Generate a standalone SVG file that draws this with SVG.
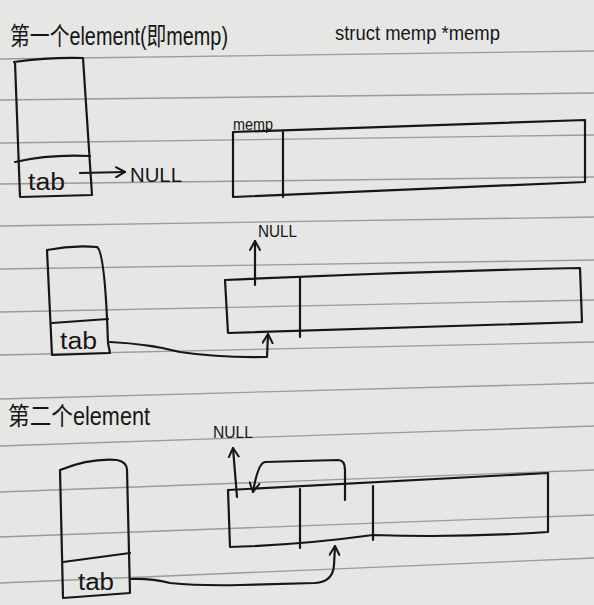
<svg xmlns="http://www.w3.org/2000/svg" width="594" height="605" viewBox="0 0 594 605">
<style>
.paper{fill:#e6e6e4}
.rule{stroke:#9a9a98;stroke-width:1.3;fill:none}
.ink{stroke:#161616;stroke-width:2.2;fill:none;stroke-linecap:round;stroke-linejoin:round}
.t{fill:#161616;font-family:"Liberation Sans","Noto Sans CJK SC",sans-serif}
</style>
<defs>
<marker id="ah" viewBox="0 0 12 12" refX="10" refY="6" markerWidth="12" markerHeight="12" markerUnits="userSpaceOnUse" orient="auto">
<path d="M1,1 L10,6 L1,11" fill="none" stroke="#161616" stroke-width="2" stroke-linecap="round" stroke-linejoin="round"/>
</marker>
</defs>
<rect class="paper" x="0" y="0" width="594" height="605"/>
<g id="ruled-lines">
<line class="rule" x1="0" y1="59" x2="594" y2="51"/>
<line class="rule" x1="0" y1="100" x2="594" y2="93"/>
<line class="rule" x1="0" y1="143" x2="594" y2="135"/>
<line class="rule" x1="0" y1="184" x2="594" y2="177"/>
<line class="rule" x1="0" y1="226" x2="594" y2="217"/>
<line class="rule" x1="0" y1="269" x2="594" y2="260"/>
<line class="rule" x1="0" y1="312" x2="594" y2="300"/>
<line class="rule" x1="0" y1="355" x2="594" y2="342"/>
<line class="rule" x1="0" y1="399" x2="594" y2="383"/>
<line class="rule" x1="0" y1="446" x2="594" y2="426"/>
<line class="rule" x1="0" y1="492" x2="594" y2="470"/>
<line class="rule" x1="0" y1="537" x2="594" y2="515"/>
<line class="rule" x1="0" y1="583" x2="594" y2="558"/>
</g>
<g id="titles">
<text class="t" x="10" y="45" font-size="25" textLength="218" lengthAdjust="spacingAndGlyphs">第一个element(即memp)</text>
<text class="t" x="335" y="40" font-size="20" textLength="165" lengthAdjust="spacingAndGlyphs">struct memp *memp</text>
<text class="t" x="8" y="425" font-size="25" textLength="142" lengthAdjust="spacingAndGlyphs">第二个element</text>
</g>
<g id="element1">
<path class="ink" d="M14,62 Q50,57 83,58 L92,195 L20,197 L15,62"/>
<path class="ink" d="M15,162 Q50,154 90,156"/>
<text class="t" x="28" y="190" font-size="23" textLength="37" lengthAdjust="spacingAndGlyphs">tab</text>
</g>
<g id="null1">
<text class="t" x="130" y="182" font-size="20" textLength="52" lengthAdjust="spacingAndGlyphs">NULL</text>
</g>
<g id="memp1">
<path class="ink" d="M233,132 L585,120 L585,182 L233,197 Z"/>
<line class="ink" x1="283" y1="132" x2="283" y2="197"/>
<text class="t" x="233" y="130" font-size="16" textLength="40" lengthAdjust="spacingAndGlyphs">memp</text>
</g>
<g id="element2">
<path class="ink" d="M47,250 Q72,245 97,247 Q105,252 108,343 L110,353 L52,355 L47,250"/>
<path class="ink" d="M52,323 L108,319"/>
<text class="t" x="60" y="349" font-size="23" textLength="37" lengthAdjust="spacingAndGlyphs">tab</text>
</g>
<g id="memp2">
<path class="ink" d="M225,280 Q400,272 580,268 L582,322 Q400,327 228,333 Z"/>
<line class="ink" x1="300" y1="277" x2="300" y2="337"/>
<text class="t" x="258" y="237" font-size="16" textLength="39" lengthAdjust="spacingAndGlyphs">NULL</text>
</g>
<g id="element3">
<path class="ink" d="M60,470 Q90,458 117,460 Q127,462 127,470 L130,593 L63,598 L60,470"/>
<path class="ink" d="M63,562 L130,553"/>
<text class="t" x="78" y="590" font-size="23" textLength="36" lengthAdjust="spacingAndGlyphs">tab</text>
</g>
<g id="memp3">
<path class="ink" d="M228,490 Q390,482 548,473 L548,532 Q460,538 373,535 Q300,545 230,547 Z"/>
<line class="ink" x1="300" y1="489" x2="300" y2="548"/>
<line class="ink" x1="373" y1="486" x2="373" y2="540"/>
<text class="t" x="213" y="438" font-size="16" textLength="40" lengthAdjust="spacingAndGlyphs">NULL</text>
</g>
<g id="connectors">
<line class="ink" x1="80" y1="173" x2="125" y2="172" marker-end="url(#ah)"/>
<path class="ink" d="M110,342 Q150,344 180,352 Q220,358 267,357 L268,334" marker-end="url(#ah)"/>
<line class="ink" x1="255" y1="285" x2="255" y2="241" marker-end="url(#ah)"/>
<line class="ink" x1="237" y1="497" x2="233" y2="448" marker-end="url(#ah)"/>
<path class="ink" d="M130,579 Q150,578 170,583 Q200,586 240,585 L315,583 Q333,582 334,565 L335,546" marker-end="url(#ah)"/>
<path class="ink" d="M345,500 L345,470 Q345,460 338,460 L265,462 Q258,463 253,492" marker-end="url(#ah)"/>
</g>
</svg>
